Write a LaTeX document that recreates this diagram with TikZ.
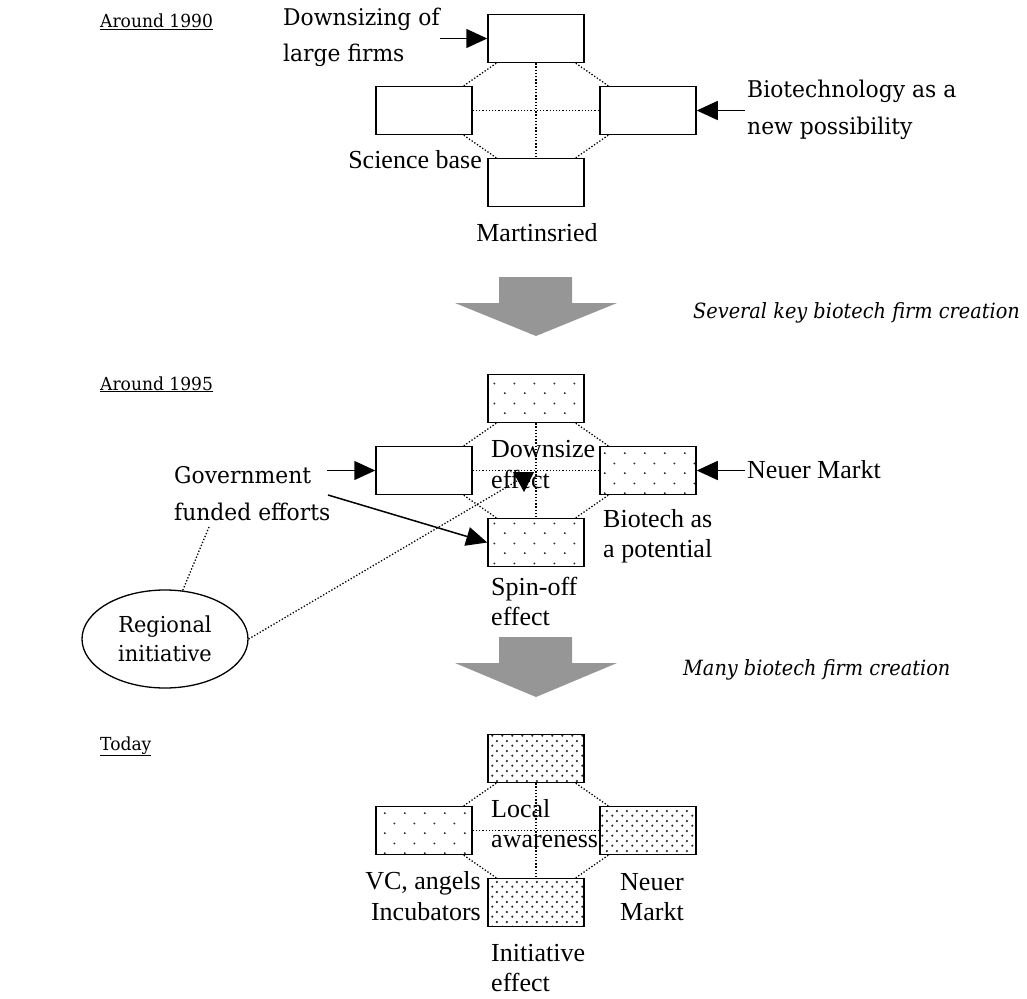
\documentclass[tikz,border=0pt]{standalone}
\usepackage{fontspec}
\setmainfont{Liberation Serif}
\newfontfamily\camb[FakeStretch=0.95]{DejaVu Serif}
\newfontfamily\cambit[FakeStretch=0.92]{DejaVu Serif}
\usetikzlibrary{arrows.meta,patterns.meta,shapes.geometric}

% staggered dot fills for the boxes
\tikzdeclarepattern{
  name=sparsedots, type=uncolored,
  bottom left={(0pt,0pt)}, top right={(20pt,20pt)}, tile size={(20pt,20pt)},
  code={\pgfpathcircle{\pgfpoint{5pt}{5pt}}{1.1pt}%
        \pgfpathcircle{\pgfpoint{15pt}{15pt}}{1.1pt}\pgfusepath{fill}}}
\tikzdeclarepattern{
  name=densedots, type=uncolored,
  bottom left={(0pt,0pt)}, top right={(10pt,10pt)}, tile size={(10pt,10pt)},
  code={\pgfpathcircle{\pgfpoint{2.5pt}{2.5pt}}{1.3pt}%
        \pgfpathcircle{\pgfpoint{7.5pt}{7.5pt}}{1.3pt}\pgfusepath{fill}}}

\begin{document}
\begin{tikzpicture}[x=1pt,y=-1pt,
  box/.style={draw, line width=1.5pt, minimum width=96pt, minimum height=48pt, inner sep=0pt},
  sparse/.style={pattern=sparsedots, pattern color=black!85},
  dense/.style={pattern=densedots, pattern color=black!85},
  link/.style={line width=1.3pt, dash pattern=on 1.3pt off 1.9pt},
  push/.style={line width=1.5pt, -{Triangle[length=21pt,width=19pt]}},
  bigarrow/.style={fill=black!41},
  lbl/.style={font=\fontsize{26}{30}\selectfont, inner sep=0pt, anchor=base west},
  cmb/.style={font=\camb\fontsize{23}{30}\selectfont, inner sep=0pt, anchor=base west},
  yr/.style={font=\camb\fontsize{18}{20}\selectfont, inner sep=0pt, anchor=base west},
  cmbit/.style={font=\cambit\itshape\fontsize{21}{26}\selectfont, inner sep=0pt, anchor=base west},
]
\useasboundingbox (0,0) rectangle (1027,998);

% ---------- around 1990 ----------
\node[yr] (y1) at (100,28) {\underline{Around 1990}};
\node[box] (t1) at (536,38.5) {};
\node[box] (l1) at (424,110.5) {};
\node[box] (r1) at (648,110.5) {};
\node[box] (b1) at (536,182.5) {};
\draw[link] (t1.south) -- (b1.north);
\draw[link] (l1.east) -- (r1.west);
\draw[link] ([xshift=9pt]t1.south west) -- ([xshift=-9pt]l1.north east);
\draw[link] ([xshift=-9pt]t1.south east) -- ([xshift=9pt]r1.north west);
\draw[link] ([xshift=-9pt]l1.south east) -- ([xshift=9pt]b1.north west);
\draw[link] ([xshift=9pt]r1.south west) -- ([xshift=-9pt]b1.north east);

\node[cmb] (dsz1) at (283,26) {Downsizing of};
\node[cmb] (dsz2) at (283,62) {large firms};
\node[cmb] (bio1) at (747,97) {Biotechnology as a};
\node[cmb] (bio2) at (747,134) {new possibility};
\node[lbl, anchor=base east] (sci) at (482,168) {Science base};
\node[lbl, anchor=base] (mar) at (537,241) {Martinsried};
\coordinate (dszA) at (440,38.5);
\coordinate (bioA) at (745,110.5);
\draw[push] (dszA) -- (t1.west);
\draw[push] (bioA) -- (r1.east);

% ---------- transition 1 ----------
\fill[bigarrow] (499,277) -- (572,277) -- (572,303) -- (617,303) -- (536,336)
  -- (455,303) -- (499,303) -- cycle;
\node[cmbit] (tr1) at (693,318) {Several key biotech firm creation};

% ---------- around 1995 ----------
\node[yr] (y2) at (100,390) {\underline{Around 1995}};
\node[box, sparse] (t2) at (536,398.5) {};
\node[box] (l2) at (424,470.5) {};
\node[box, sparse] (r2) at (648,470.5) {};
\node[box, sparse] (b2) at (536,542.5) {};
\draw[link] (t2.south) -- (b2.north);
\draw[link] (l2.east) -- (r2.west);
\draw[link] ([xshift=9pt]t2.south west) -- ([xshift=-9pt]l2.north east);
\draw[link] ([xshift=-9pt]t2.south east) -- ([xshift=9pt]r2.north west);
\draw[link] ([xshift=-9pt]l2.south east) -- ([xshift=9pt]b2.north west);
\draw[link] ([xshift=9pt]r2.south west) -- ([xshift=-9pt]b2.north east);

\node[lbl] (dse1) at (491,457) {Downsize};
\node[lbl] (dse2) at (491,488) {effect};
\node[cmb] (gov1) at (174,483) {Government};
\node[cmb] (gov2) at (174,520) {funded efforts};
\node[lbl] (nm1) at (747,478) {Neuer Markt};
\node[lbl] (bap1) at (603,527) {Biotech as};
\node[lbl] (bap2) at (603,557) {a potential};
\node[lbl] (spe1) at (491,595) {Spin-off};
\node[lbl] (spe2) at (491,625) {effect};
\coordinate (govA) at (327,470.5);
\coordinate (govB) at (328,495);
\coordinate (nmA) at (745,470.5);
\draw[push] (govA) -- (l2.west);
\draw[push] (govB) -- (b2.west);
\draw[push] (nmA) -- (r2.east);

\node[draw, ellipse, line width=1.3pt, minimum width=166pt, minimum height=98pt,
  inner sep=0pt, align=center, font=\camb\fontsize{22}{29}\selectfont]
  (reg) at (165,639) {Regional\\initiative};
\coordinate (govT) at (209,527);
\draw[link] (govT) -- (reg.70);
\coordinate (regA) at (517,481);
\draw[link] (reg.east) -- (regA);
\fill (513,472) -- (534,472) -- (524,492) -- cycle;

% ---------- transition 2 ----------
\fill[bigarrow] (499,637) -- (572,637) -- (572,663) -- (617,663) -- (536,697)
  -- (455,663) -- (499,663) -- cycle;
\node[cmbit] (tr2) at (683,675) {Many biotech firm creation};

% ---------- today ----------
\node[yr] (y3) at (100,750) {\underline{Today}};
\node[box, dense] (t3) at (536,758.5) {};
\node[box, sparse] (l3) at (424,830.5) {};
\node[box, dense] (r3) at (648,830.5) {};
\node[box, dense] (b3) at (536,902.5) {};
\draw[link] (t3.south) -- (b3.north);
\draw[link] (l3.east) -- (r3.west);
\draw[link] ([xshift=9pt]t3.south west) -- ([xshift=-9pt]l3.north east);
\draw[link] ([xshift=-9pt]t3.south east) -- ([xshift=9pt]r3.north west);
\draw[link] ([xshift=-9pt]l3.south east) -- ([xshift=9pt]b3.north west);
\draw[link] ([xshift=9pt]r3.south west) -- ([xshift=-9pt]b3.north east);

\node[lbl] (loc1) at (491,817) {Local};
\node[lbl] (loc2) at (491,847) {awareness};
\node[lbl, anchor=base east] (vca1) at (481,889) {VC, angels};
\node[lbl, anchor=base east] (vca2) at (481,920) {Incubators};
\node[lbl] (nm2a) at (620,890) {Neuer};
\node[lbl] (nm2b) at (620,920) {Markt};
\node[lbl] (ini1) at (491,961) {Initiative};
\node[lbl] (ini2) at (491,991) {effect};
\end{tikzpicture}
\end{document}
